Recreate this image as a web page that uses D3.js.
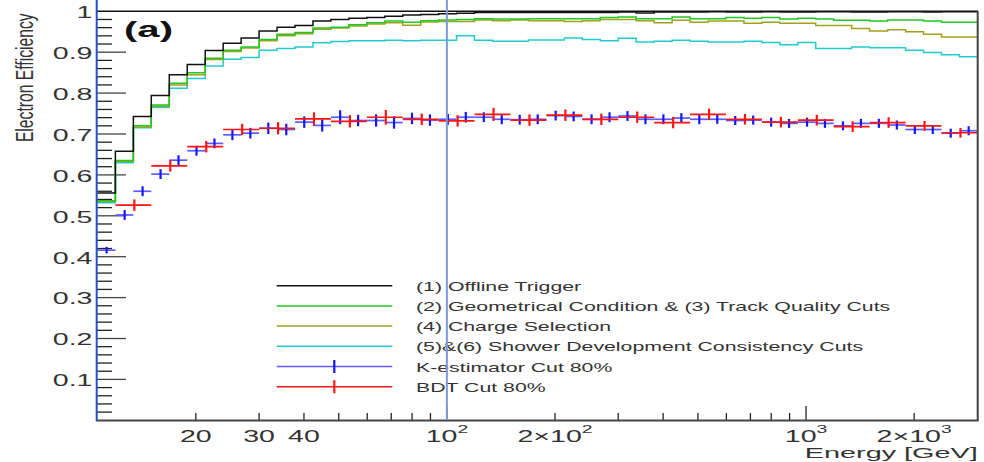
<!DOCTYPE html>
<html>
<head>
<meta charset="utf-8">
<script src="https://cdn.jsdelivr.net/npm/d3@7/dist/d3.min.js"></script>
<style>
  html, body { margin: 0; padding: 0; background: #fff; }
  svg { display: block; }
  text { font-family: "Liberation Sans", Arial, Helvetica, sans-serif; }
</style>
</head>
<body>
<svg id="chart" width="984" height="462"></svg>
<script>
// Energy bin edges [GeV] (20 bins per decade, 49 bins)
const binEdges = [10.64, 11.94, 13.40, 15.03, 16.87, 18.93, 21.24, 23.83, 26.74, 30.00,
  33.66, 37.77, 42.38, 47.55, 53.35, 59.86, 67.17, 75.36, 84.56, 94.87,
  106.4, 119.4, 134.0, 150.3, 168.7, 189.3, 212.4, 238.3, 267.4, 300.0,
  336.6, 377.7, 423.8, 475.5, 533.5, 598.6, 671.7, 753.6, 845.6, 948.7,
  1064, 1194, 1340, 1503, 1687, 1893, 2124, 2383, 2674, 3000];

// (1) Offline trigger efficiency per bin
const offlineTrigger = [0.556, 0.658, 0.743, 0.794, 0.845, 0.870, 0.904, 0.922, 0.935, 0.952,
  0.961, 0.965, 0.976, 0.980, 0.983, 0.985, 0.988, 0.991, 0.992, 0.994,
  0.995, 0.997, 0.997, 0.997, 0.997, 0.997, 0.997, 0.997, 0.997, 0.998,
  0.996, 0.998, 0.998, 0.998, 0.999, 0.998, 0.998, 0.999, 0.998, 0.998,
  0.999, 0.999, 0.998, 0.998, 0.999, 0.999, 0.998, 0.999, 0.999];

// (2) Geometrical condition & (3) track quality cuts
const geometricalCuts = [0.537, 0.635, 0.720, 0.771, 0.824, 0.850, 0.885, 0.905, 0.913, 0.931,
  0.944, 0.948, 0.959, 0.961, 0.967, 0.972, 0.976, 0.973, 0.977, 0.979,
  0.980, 0.982, 0.981, 0.981, 0.982, 0.982, 0.982, 0.982, 0.985, 0.986,
  0.982, 0.982, 0.986, 0.982, 0.982, 0.985, 0.983, 0.985, 0.981, 0.983,
  0.981, 0.978, 0.978, 0.976, 0.979, 0.979, 0.976, 0.973, 0.973];

// (4) Charge selection
const chargeSelection = [0.535, 0.633, 0.717, 0.768, 0.820, 0.845, 0.882, 0.902, 0.910, 0.928,
  0.940, 0.945, 0.956, 0.959, 0.964, 0.969, 0.972, 0.966, 0.974, 0.975,
  0.975, 0.979, 0.977, 0.979, 0.977, 0.977, 0.975, 0.977, 0.980, 0.980,
  0.977, 0.972, 0.978, 0.973, 0.976, 0.976, 0.971, 0.973, 0.971, 0.971,
  0.965, 0.965, 0.958, 0.952, 0.955, 0.950, 0.944, 0.937, 0.937];

// (5)&(6) Shower development consistency cuts
const showerCuts = [0.532, 0.630, 0.715, 0.765, 0.812, 0.836, 0.866, 0.883, 0.887, 0.905,
  0.909, 0.913, 0.923, 0.926, 0.928, 0.928, 0.929, 0.928, 0.929, 0.929,
  0.940, 0.929, 0.927, 0.927, 0.930, 0.930, 0.935, 0.931, 0.928, 0.934,
  0.925, 0.927, 0.929, 0.927, 0.925, 0.925, 0.927, 0.924, 0.918, 0.924,
  0.909, 0.909, 0.913, 0.911, 0.911, 0.905, 0.899, 0.894, 0.889];

// K-estimator cut 80%, one point per fine bin
const kEstimator = [0.416, 0.502, 0.560, 0.602, 0.636, 0.659, 0.677, 0.698, 0.702, 0.714,
  0.711, 0.729, 0.721, 0.741, 0.733, 0.733, 0.728, 0.738, 0.734, 0.736,
  0.741, 0.741, 0.736, 0.735, 0.736, 0.745, 0.743, 0.736, 0.741, 0.744,
  0.736, 0.736, 0.739, 0.736, 0.736, 0.733, 0.734, 0.729, 0.726, 0.729,
  0.726, 0.720, 0.726, 0.726, 0.722, 0.711, 0.711, 0.702, 0.708];
const kEstimatorErr = [0.008, 0.012, 0.012, 0.012, 0.012, 0.012, 0.012, 0.013, 0.013, 0.014,
  0.014, 0.014, 0.015, 0.017, 0.014, 0.015, 0.015, 0.014, 0.014, 0.013,
  0.013, 0.012, 0.012, 0.012, 0.012, 0.012, 0.012, 0.012, 0.012, 0.012,
  0.012, 0.012, 0.012, 0.012, 0.011, 0.011, 0.011, 0.011, 0.011, 0.011,
  0.011, 0.011, 0.011, 0.011, 0.011, 0.011, 0.011, 0.011, 0.011];

// BDT cut 80%, one point per double-width bin (edges 1,3,5,...,49)
const bdtCut = [0.526, 0.622, 0.669, 0.711, 0.714, 0.737, 0.731, 0.741, 0.736, 0.732,
  0.748, 0.734, 0.746, 0.736, 0.741, 0.728, 0.748, 0.736, 0.729, 0.734,
  0.718, 0.728, 0.720, 0.703];
const bdtCutErr = [0.014, 0.014, 0.014, 0.014, 0.015, 0.016, 0.015, 0.018, 0.014, 0.014,
  0.016, 0.014, 0.014, 0.014, 0.014, 0.014, 0.014, 0.013, 0.013, 0.013,
  0.013, 0.013, 0.012, 0.012];

// Axis labels
const yTickValues = [0.1, 0.2, 0.3, 0.4, 0.5, 0.6, 0.7, 0.8, 0.9, 1];
const yTickLabels = ["0.1", "0.2", "0.3", "0.4", "0.5", "0.6", "0.7", "0.8", "0.9", "1"];
const xLabelValues = [20, 30, 40, 100, 200, 1000, 2000];
const xLabelTexts = ["20", "30", "40", "10^2", "2\u00d710^2", "10^3", "2\u00d710^3"];

const legendNames = [
  "(1) Offline Trigger",
  "(2) Geometrical Condition & (3) Track Quality Cuts",
  "(4) Charge Selection",
  "(5)&(6) Shower Development Consistency Cuts",
  "K-estimator Cut 80%",
  "BDT Cut 80%"
];

const colors = {
  offline: "#111111",
  geometrical: "#22c822",
  charge: "#a2a11e",
  shower: "#22cbcb",
  kest: "#1414ff",
  kestLight: "#5c5cff",
  bdt: "#ff1414"
};

const svg = d3.select("#chart");

const x = d3.scaleLog().domain([binEdges[0], binEdges[binEdges.length - 1]]).range([97.4, 977.4]);
const y = d3.scaleLinear().domain([0, 1]).range([420.3, 11.3]);

// Text helper: glyphs are drawn wider than their natural proportions
function addText(parent, px, py, parts, opts) {
  const g = parent.append("g").attr("transform", `translate(${px},${py})`);
  const t = g.append("text")
    .attr("font-size", opts.size)
    .attr("text-anchor", opts.anchor || "start")
    .attr("font-weight", opts.weight || "normal")
    .attr("fill", opts.fill || "#333");
  parts.forEach(p => {
    const ts = t.append("tspan").text(p.text);
    if (p.sup) ts.attr("font-size", opts.supSize).attr("dy", -opts.supRaise);
  });
  let sx = opts.sx || 1;
  if (opts.width) sx = opts.width / t.node().getComputedTextLength();
  g.attr("transform", `translate(${px},${py}) scale(${sx},1)` + (opts.rotate ? " rotate(-90)" : ""));
  return g;
}

function parseSup(str) {
  const i = str.indexOf("^");
  if (i < 0) return [{ text: str }];
  return [{ text: str.slice(0, i) }, { text: str.slice(i + 1), sup: true }];
}

// ---- Axis ticks (drawn inside the frame) ----
const tickG = svg.append("g").attr("stroke", "#222").attr("stroke-width", 1.3);
const yMinor = d3.range(1, 50).map(i => i * 0.02);
tickG.selectAll("line.ytick").data(yMinor).join("line")
  .attr("x1", 97).attr("x2", d => (Math.round(d * 50) % 5 === 0) ? 126 : 112)
  .attr("y1", d => y(d)).attr("y2", d => y(d))
  .attr("stroke", d => (Math.round(d * 50) % 5 === 0) ? "#444" : "#222");

const xMinor = [];
[10, 100, 1000].forEach(dec => {
  for (let m = 1; m <= 9; m++) {
    const v = dec * m;
    if (v > binEdges[0] && v < binEdges[binEdges.length - 1]) xMinor.push({ v, major: m === 1 });
  }
});
tickG.selectAll("line.xtick").data(xMinor).join("line")
  .attr("x1", d => x(d.v)).attr("x2", d => x(d.v))
  .attr("y1", 420).attr("y2", d => d.major ? 406 : 413);

// ---- Histogram outlines ----
function stepPath(values) {
  const pts = [];
  values.forEach((v, i) => {
    pts.push([x(binEdges[i]), y(v)]);
    pts.push([x(binEdges[i + 1]), y(v)]);
  });
  return d3.line()(pts);
}
const histG = svg.append("g").attr("fill", "none").attr("stroke-width", 1.5);
[
  { vals: showerCuts, color: colors.shower },
  { vals: chargeSelection, color: colors.charge },
  { vals: geometricalCuts, color: colors.geometrical },
  { vals: offlineTrigger, color: colors.offline }
].forEach(s => {
  histG.append("path").attr("d", stepPath(s.vals)).attr("stroke", s.color);
});

// ---- Error-bar points ----
function drawPoints(values, errs, lo, hi, color, hColor) {
  const g = svg.append("g");
  values.forEach((v, i) => {
    const a = binEdges[lo(i)], b = binEdges[hi(i)];
    const c = (a + b) / 2;
    g.append("line").attr("x1", x(a)).attr("x2", x(b)).attr("y1", y(v)).attr("y2", y(v))
      .attr("stroke", hColor).attr("stroke-width", 1.7);
    g.append("line").attr("x1", x(c)).attr("x2", x(c)).attr("y1", y(v - errs[i])).attr("y2", y(v + errs[i]))
      .attr("stroke", color).attr("stroke-width", 2.2);
  });
}
drawPoints(kEstimator, kEstimatorErr, i => i, i => i + 1, colors.kest, colors.kestLight);
drawPoints(bdtCut, bdtCutErr, i => 1 + 2 * i, i => 3 + 2 * i, colors.bdt, colors.bdt);

// ---- Frame ----
svg.append("line").attr("x1", 97).attr("x2", 978).attr("y1", 11.3).attr("y2", 11.3)
  .attr("stroke", "#111").attr("stroke-width", 1.6);
svg.append("line").attr("x1", 977.7).attr("x2", 977.7).attr("y1", 11).attr("y2", 421)
  .attr("stroke", "#444").attr("stroke-width", 2);
svg.append("line").attr("x1", 96).attr("x2", 978.5).attr("y1", 420.5).attr("y2", 420.5)
  .attr("stroke", "#444").attr("stroke-width", 2);

// ---- Legend ----
const legendKeys = [
  { color: colors.offline },
  { color: colors.geometrical },
  { color: colors.charge },
  { color: colors.shower },
  { color: colors.kestLight, tick: colors.kest },
  { color: colors.bdt, tick: colors.bdt }
];
const legG = svg.append("g");
legendKeys.forEach((k, i) => {
  const ly = 285.7 + i * 20.2;
  legG.append("line").attr("x1", 276.7).attr("x2", 392.3).attr("y1", ly).attr("y2", ly)
    .attr("stroke", k.color).attr("stroke-width", 1.5);
  if (k.tick) {
    legG.append("line").attr("x1", 334.3).attr("x2", 334.3).attr("y1", ly - 6.5).attr("y2", ly + 6.5)
      .attr("stroke", k.tick).attr("stroke-width", 2.2);
  }
  addText(legG, 416, ly + 5, [{ text: legendNames[i] }], { size: 12.6, sx: 1.69, fill: "#333" });
});

// ---- Tick labels ----
yTickValues.forEach((v, i) => {
  addText(svg, 92.5, y(v) + 6.8, [{ text: yTickLabels[i] }], { size: 17, sx: 1.68, anchor: "end" });
});
xLabelValues.forEach((v, i) => {
  addText(svg, x(v), 441.5, parseSup(xLabelTexts[i]),
    { size: 17, sx: 1.68, anchor: "middle", supSize: 11.5, supRaise: 8.3 });
});

// ---- Axis titles ----
addText(svg, 977.7, 458, [{ text: "Energy [GeV]" }], { size: 14, width: 173, anchor: "end" });
addText(svg, 33.2, 13.3, [{ text: "Electron Efficiency" }], { size: 15.7, sx: 1.56, anchor: "end", rotate: true });
addText(svg, 124, 37, [{ text: "(a)" }], { size: 22, width: 49, weight: "bold", fill: "#111" });

// ---- Reference lines: left edge and 100 GeV ----
svg.append("line").attr("x1", 96.7).attr("x2", 96.7).attr("y1", 0).attr("y2", 421)
  .attr("stroke", "#2252c8").attr("stroke-width", 2);
svg.append("line").attr("x1", x(100)).attr("x2", x(100)).attr("y1", 0).attr("y2", 420)
  .attr("stroke", "#7d9bdc").attr("stroke-width", 2);
</script>
</body>
</html>
